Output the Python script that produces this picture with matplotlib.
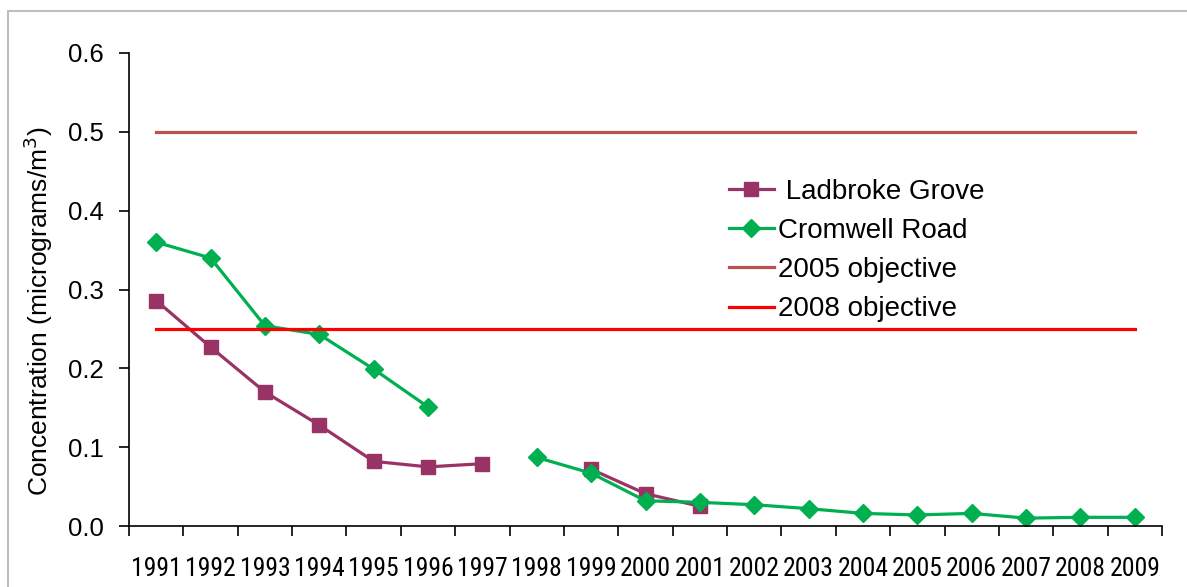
import numpy as np
import matplotlib
matplotlib.use("Agg")
import matplotlib.pyplot as plt
from matplotlib import font_manager
from matplotlib.patches import Rectangle

years = [str(y) for y in range(1991, 2010)]
ladbroke = [0.286, 0.227, 0.170, 0.128, 0.082, 0.075, 0.079, np.nan, 0.072, 0.041, 0.025,
            np.nan, np.nan, np.nan, np.nan, np.nan, np.nan, np.nan, np.nan]
cromwell = [0.360, 0.340, 0.254, 0.243, 0.199, 0.151, np.nan, 0.087, 0.067, 0.032, 0.030,
            0.027, 0.022, 0.016, 0.014, 0.016, 0.010, 0.011, 0.011]
obj_2005 = [0.5] * 19
obj_2008 = [0.25] * 19
yticks = [0.0, 0.1, 0.2, 0.3, 0.4, 0.5, 0.6]

names = {f.name for f in font_manager.fontManager.ttflist}
main_font = "Liberation Sans" if "Liberation Sans" in names else "DejaVu Sans"
narrow_font = None
for cand in ["Liberation Sans Narrow", "Arial Narrow", "Roboto Condensed", "Open Sans Condensed"]:
    if cand in names:
        narrow_font = cand
        break
plt.rcParams['font.family'] = [main_font, 'DejaVu Sans']

W, H = 1187, 587
fig = plt.figure(figsize=(W / 100, H / 100), dpi=100)
ax = fig.add_axes([129 / W, 1 - 526 / H, (1162 - 129) / W, (526 - 53) / H])

x = np.arange(len(years))
ax.plot(x, ladbroke, color="#993366", lw=2.3, marker="s", ms=9.5, label=" Ladbroke Grove")
ax.plot(x, cromwell, color="#00B050", lw=2.3, marker="D", ms=9.5, label="Cromwell Road")
ax.plot(x, obj_2005, color="#C0504D", lw=2.3, label="2005 objective")
ax.plot(x, obj_2008, color="#FF0000", lw=2.3, label="2008 objective")

ax.set_xlim(-0.5, len(years) - 0.5)
ax.set_ylim(0, 0.6)
ax.set_yticks(yticks)
ax.set_yticklabels([f"{v:.1f}" for v in yticks], fontsize=18.5)
ax.set_xticks(np.arange(-0.5, len(years), 1.0))
ax.set_xticklabels([])
ax.set_xticks(x, minor=True)
if narrow_font:
    ax.set_xticklabels(years, minor=True, fontsize=18.5, family=narrow_font)
else:
    ax.set_xticklabels(years, minor=True, fontsize=15)
ax.tick_params(axis='x', which='minor', length=0, pad=22)
ax.tick_params(axis='x', which='major', length=7, width=1.2, direction='out')
ax.tick_params(axis='y', length=7, width=1.2, direction='out', pad=11)
for s in ['top', 'right']:
    ax.spines[s].set_visible(False)
for s in ['left', 'bottom']:
    ax.spines[s].set_linewidth(1.2)

ax.set_ylabel("Concentration (micrograms/m$^3$)", fontsize=19, labelpad=8)
ax.yaxis.set_label_coords(-0.0717, 0.5 - 22 / 473)

ax.legend(loc='upper left', bbox_to_anchor=(589 / 1033, 1 - (168 - 53) / 473), frameon=False,
          fontsize=20, handlelength=1.6, handletextpad=0.15, labelspacing=0.47, borderaxespad=0)

fig.patches.append(Rectangle((8 / W, -0.1), 1.2, 1 - 11 / H + 0.1, transform=fig.transFigure,
                             fill=False, edgecolor="#BFBFBF", lw=1.5))

fig.savefig("out.png", dpi=100)
